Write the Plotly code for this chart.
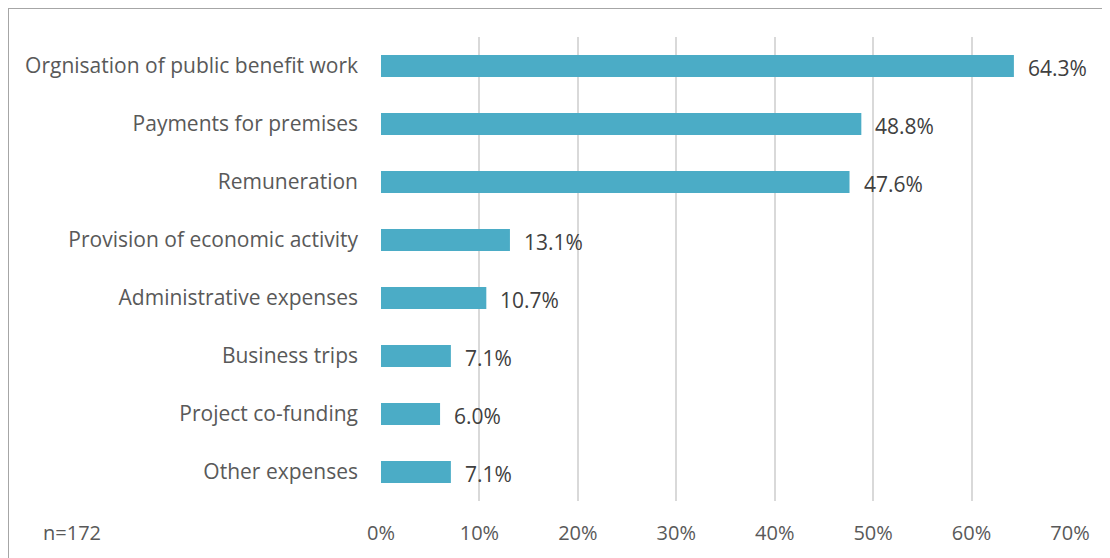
import plotly.graph_objects as go

categories = ["Orgnisation of public benefit work", "Payments for premises", "Remuneration",
              "Provision of economic activity", "Administrative expenses", "Business trips",
              "Project co-funding", "Other expenses"]
values = [64.3, 48.8, 47.6, 13.1, 10.7, 7.1, 6.0, 7.1]
tick_vals = [0, 10, 20, 30, 40, 50, 60, 70]
tick_text = ["0%", "10%", "20%", "30%", "40%", "50%", "60%", "70%"]
note = "n=172"

FONT = "Open Sans"
GREY = "#595959"

# page offset of 8px (body margin) -> figure coords = page coords - 8
L, R, T, H_PLOT = 373, 40, 29, 464
W, H = 1102, 550

fig = go.Figure()
fig.add_trace(go.Bar(
    y=categories, x=values, orientation="h",
    marker=dict(color="#4BACC6", line=dict(width=0)),
    width=0.38, hoverinfo="skip",
))

for c, v in zip(categories, values):
    fig.add_annotation(x=v, y=c, text=f"{v:.1f}%", showarrow=False,
                       xanchor="left", xshift=12, yshift=-2,
                       font=dict(family=FONT, size=21, color="#404040"))

fig.add_annotation(xref="paper", yref="paper", x=(33 - L) / 689, y=(T + H_PLOT - 524) / H_PLOT,
                   text=note, showarrow=False, xanchor="left", yanchor="middle",
                   font=dict(family=FONT, size=20, color=GREY))

# outer chart border
fig.add_shape(type="rect", xref="paper", yref="paper",
              x0=(0 - L) / 689, x1=2, y0=-2, y1=(T + H_PLOT - 0) / H_PLOT,
              line=dict(color="#a6a6a6", width=2), fillcolor="rgba(0,0,0,0)", layer="below")

fig.update_layout(
    width=W, height=H,
    margin=dict(l=L, r=R, t=T, b=H - T - H_PLOT),
    paper_bgcolor="white", plot_bgcolor="white",
    showlegend=False,
    font=dict(family=FONT, size=21, color=GREY),
    xaxis=dict(range=[0, 70], tickvals=tick_vals, ticktext=tick_text,
               showgrid=True, gridcolor="#d9d9d9", gridwidth=1.5,
               zeroline=False, showline=False, ticks="", fixedrange=True,
               ticklabelstandoff=18, tickfont=dict(size=20)),
    yaxis=dict(categoryorder="array", categoryarray=categories[::-1],
               showgrid=False, zeroline=False, showline=False, ticks="",
               ticklabelstandoff=22, fixedrange=True),
)

fig.write_html("out.html")
